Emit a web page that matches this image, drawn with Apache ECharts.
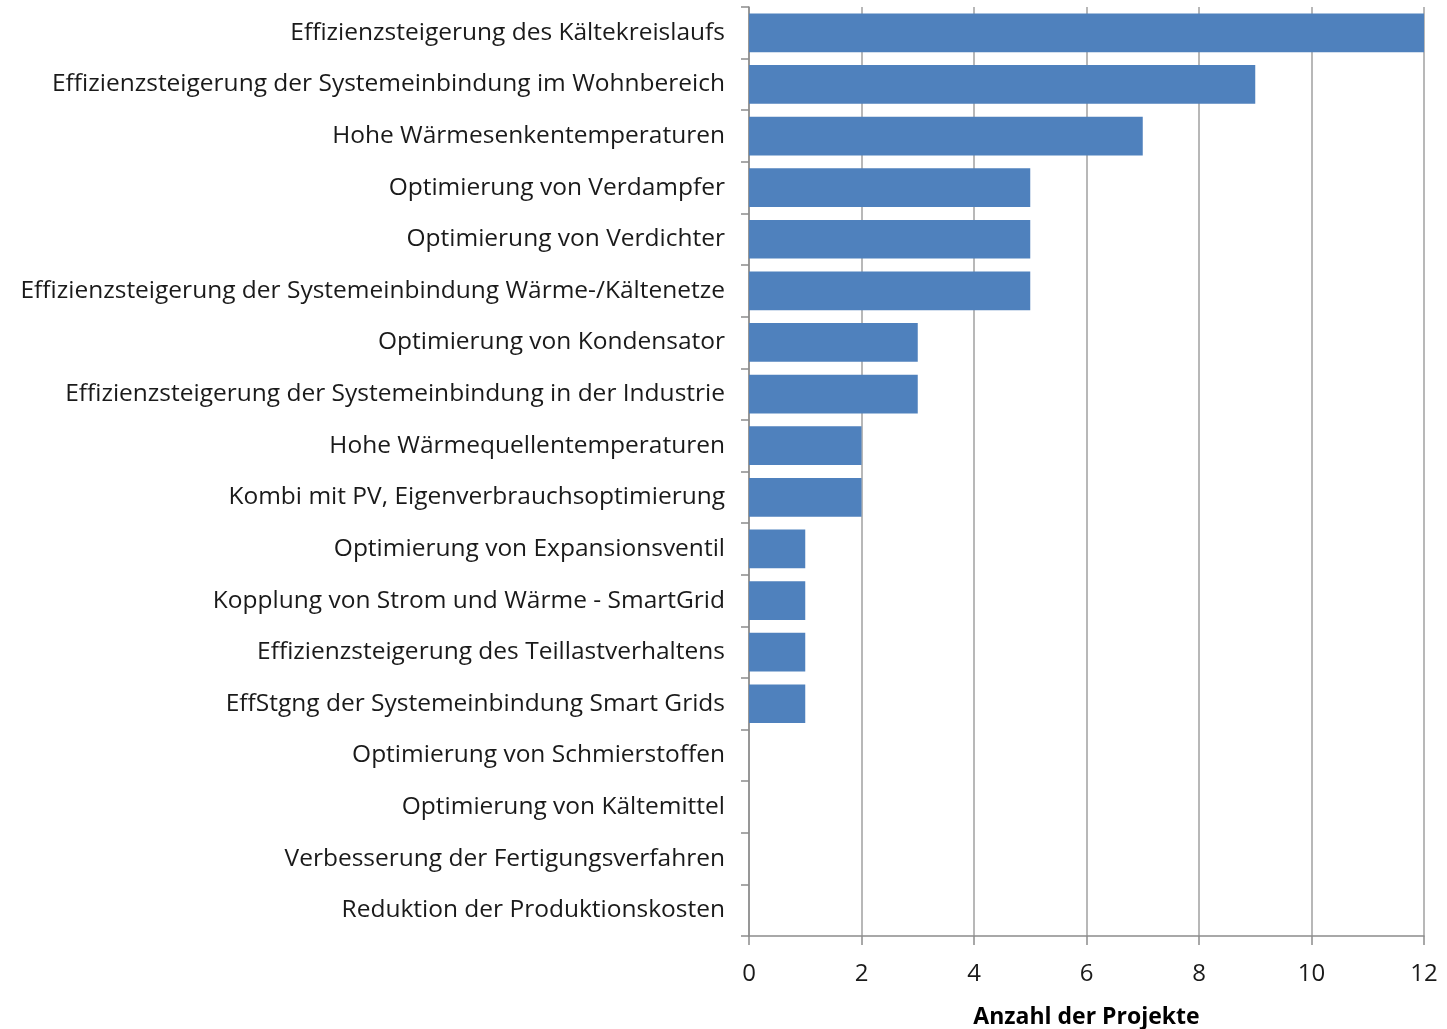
<!DOCTYPE html>
<html>
<head>
<meta charset="utf-8">
<script src="https://cdn.jsdelivr.net/npm/echarts@6/dist/echarts.min.js"></script>
<style>
  html, body { margin: 0; padding: 0; background: #fff; }
  #chart { width: 1447px; height: 1029px; }
</style>
</head>
<body>
<div id="chart"></div>
<script>
  const categories = [
    'Effizienzsteigerung des Kältekreislaufs',
    'Effizienzsteigerung der Systemeinbindung im Wohnbereich',
    'Hohe Wärmesenkentemperaturen',
    'Optimierung von Verdampfer',
    'Optimierung von Verdichter',
    'Effizienzsteigerung der Systemeinbindung Wärme-/Kältenetze',
    'Optimierung von Kondensator',
    'Effizienzsteigerung der Systemeinbindung in der Industrie',
    'Hohe Wärmequellentemperaturen',
    'Kombi mit PV, Eigenverbrauchsoptimierung',
    'Optimierung von Expansionsventil',
    'Kopplung von Strom und Wärme - SmartGrid',
    'Effizienzsteigerung des Teillastverhaltens',
    'EffStgng der Systemeinbindung Smart Grids',
    'Optimierung von Schmierstoffen',
    'Optimierung von Kältemittel',
    'Verbesserung der Fertigungsverfahren',
    'Reduktion der Produktionskosten'
  ];
  const projectCounts = [12, 9, 7, 5, 5, 5, 3, 3, 2, 2, 1, 1, 1, 1, 0, 0, 0, 0];
  const axisName = 'Anzahl der Projekte';

  const fontFamily = '"Open Sans", "Noto Sans", sans-serif';
  let chart = echarts.init(document.getElementById('chart'));
  chart.setOption({
    animation: false,
    grid: {
      left: 749,
      right: 23,
      top: 7,
      bottom: 93,
      containLabel: false,
      outerBoundsMode: 'none'
    },
    xAxis: {
      type: 'value',
      min: 0,
      max: 12,
      interval: 2,
      name: axisName,
      nameLocation: 'middle',
      nameGap: 70,
      nameTextStyle: {
        fontFamily: fontFamily,
        fontSize: 23,
        fontWeight: 'bold',
        color: '#000'
      },
      axisLine: { show: true, lineStyle: { color: '#8c8c8c', width: 1.5 } },
      axisTick: { show: true, length: 9, lineStyle: { color: '#8c8c8c', width: 1.5 } },
      axisLabel: {
        margin: 26,
        fontFamily: fontFamily,
        fontSize: 24,
        color: '#1a1a1a'
      },
      splitLine: { show: true, lineStyle: { color: '#a0a0a0', width: 1.5 } }
    },
    yAxis: {
      type: 'category',
      data: categories,
      inverse: true,
      axisLine: { show: true, lineStyle: { color: '#8c8c8c', width: 1.5 } },
      axisTick: { show: true, length: 8, lineStyle: { color: '#8c8c8c', width: 1.5 } },
      axisLabel: {
        margin: 24,
        fontFamily: fontFamily,
        fontSize: 24.5,
        color: '#1a1a1a'
      },
      splitLine: { show: false }
    },
    series: [
      {
        name: axisName,
        type: 'bar',
        data: projectCounts,
        barCategoryGap: '25%',
        itemStyle: { color: '#4f81bd' }
      }
    ]
  });
</script>
</body>
</html>
